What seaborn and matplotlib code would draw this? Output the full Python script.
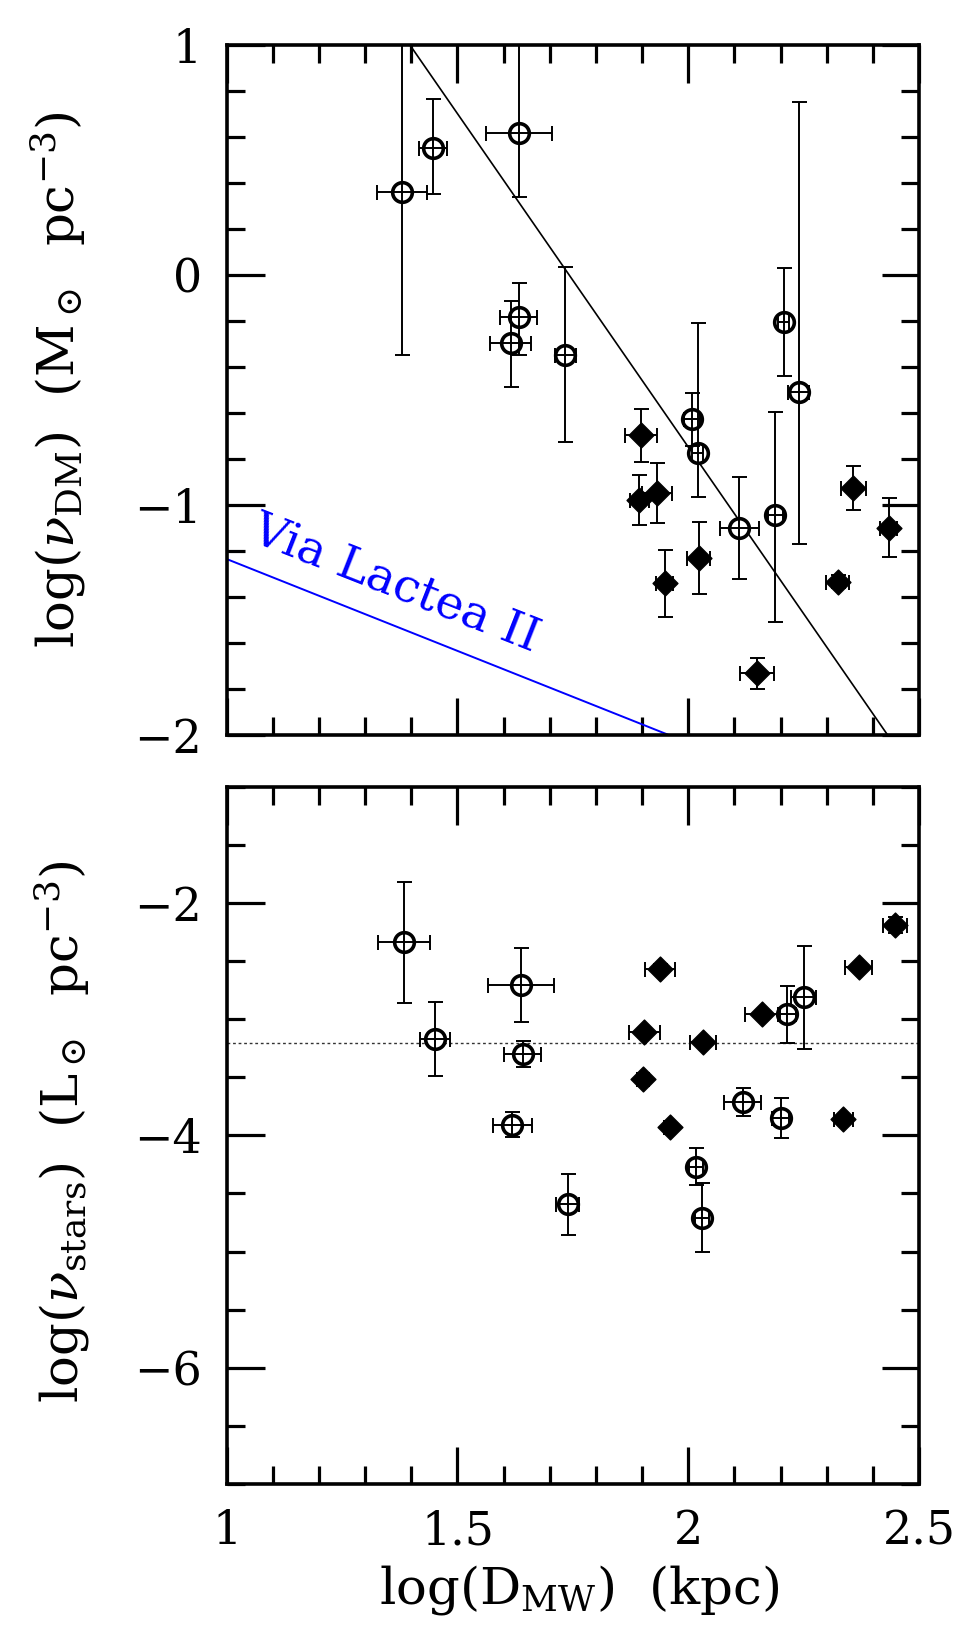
import numpy as np
import pandas as pd
import matplotlib
matplotlib.use("Agg")
import matplotlib.pyplot as plt
from matplotlib.ticker import MultipleLocator
import seaborn as sns

# top panel: dark matter density, open symbols
dm_open_x = [1.380, 1.447, 1.633, 1.633, 1.615, 1.734, 2.207, 2.239, 2.008, 2.021, 2.111, 2.189]
dm_open_y = [0.360, 0.551, 0.619, -0.184, -0.297, -0.348, -0.203, -0.507, -0.627, -0.773, -1.101, -1.043]
dm_open_xerr = [0.055, 0.030, 0.072, 0.040, 0.045, 0.022, 0.012, 0.022, 0.018, 0.012, 0.043, 0.016]
dm_open_ylo = [0.708, 0.200, 0.280, 0.164, 0.189, 0.377, 0.236, 0.664, 0.115, 0.194, 0.222, 0.464]
dm_open_yhi = [0.708, 0.213, 0.500, 0.151, 0.184, 0.384, 0.233, 1.259, 0.115, 0.566, 0.224, 0.449]

# top panel: filled symbols
dm_fill_x = [1.898, 1.894, 1.932, 1.949, 2.023, 2.149, 2.324, 2.358, 2.434]
dm_fill_y = [-0.696, -0.978, -0.949, -1.341, -1.232, -1.732, -1.333, -0.927, -1.099]
dm_fill_xerr = [0.035, 0.020, 0.032, 0.018, 0.025, 0.036, 0.025, 0.027, 0.018]
dm_fill_yerr = [0.115, 0.110, 0.130, 0.145, 0.157, 0.066, 0.030, 0.095, 0.128]

# fit line and Via Lactea II line
fit_x = [1.397, 2.432]
fit_y = [1.0, -2.0]
vl_x = [1.0, 1.958]
vl_y = [-1.235, -2.0]

# bottom panel: stellar density
st_open_x = [1.384, 1.451, 1.638, 1.641, 1.619, 1.739, 2.250, 2.214, 2.118, 2.200, 2.017, 2.030]
st_open_y = [-2.337, -3.171, -2.708, -3.299, -3.908, -4.593, -2.813, -2.956, -3.713, -3.850, -4.270, -4.707]
st_open_xerr = [0.056, 0.032, 0.072, 0.040, 0.043, 0.025, 0.027, 0.020, 0.040, 0.018, 0.015, 0.015]
st_open_yerr = [0.52, 0.32, 0.32, 0.11, 0.11, 0.26, 0.44, 0.245, 0.12, 0.17, 0.16, 0.30]

st_fill_x = [2.449, 2.369, 1.939, 2.160, 1.905, 2.032, 1.902, 1.960, 2.336]
st_fill_y = [-2.191, -2.548, -2.565, -2.956, -3.113, -3.199, -3.513, -3.927, -3.862]
st_fill_xerr = [0.026, 0.030, 0.032, 0.038, 0.034, 0.028, 0.012, 0.012, 0.020]
st_fill_yerr = [0.07, 0.03, 0.04, 0.03, 0.04, 0.03, 0.03, 0.03, 0.03]

st_mean = -3.208

sns.set_style("ticks", {'axes.edgecolor': 'black', 'xtick.color': 'black',
                        'ytick.color': 'black', 'text.color': 'black',
                        'axes.labelcolor': 'black'})
plt.rcParams['font.family'] = ['DejaVu Serif']
plt.rcParams['mathtext.fontset'] = 'dejavuserif'

fig = plt.figure(figsize=(9.73, 16.48), dpi=100)
ax1 = fig.add_axes([0.233, 0.554, 0.7115, 0.4187])
ax2 = fig.add_axes([0.233, 0.0995, 0.7115, 0.4231])

eb = dict(fmt='none', ecolor='black', elinewidth=1.4, capsize=5.4, capthick=1.4, zorder=4)


def draw_points(ax, ox, oy, oxe, oye, fx, fy, fxe, fye):
    op = pd.DataFrame({'x': ox, 'y': oy})
    fp = pd.DataFrame({'x': fx, 'y': fy})
    sns.scatterplot(data=op, x='x', y='y', ax=ax, marker='o', s=200, color='white',
                    edgecolor='black', linewidth=2.6, zorder=3)
    sns.scatterplot(data=fp, x='x', y='y', ax=ax, marker='D', s=160, color='black',
                    edgecolor='black', linewidth=1, zorder=3)
    ax.errorbar(ox, oy, xerr=oxe, yerr=oye, **eb)
    ax.errorbar(fx, fy, xerr=fxe, yerr=fye, **eb)


draw_points(ax1, dm_open_x, dm_open_y, dm_open_xerr, [dm_open_ylo, dm_open_yhi],
            dm_fill_x, dm_fill_y, dm_fill_xerr, dm_fill_yerr)
draw_points(ax2, st_open_x, st_open_y, st_open_xerr, st_open_yerr,
            st_fill_x, st_fill_y, st_fill_xerr, st_fill_yerr)

sns.lineplot(x=fit_x, y=fit_y, ax=ax1, color='black', linewidth=1.2, zorder=2)
sns.lineplot(x=vl_x, y=vl_y, ax=ax1, color='blue', linewidth=1.4, zorder=2)
ax1.text(1.365, -1.345, 'Via Lactea II', color='blue', rotation=-21.5,
         rotation_mode='anchor', ha='center', va='center', fontsize=34)

ax2.axhline(st_mean, ls=(0, (2, 2)), lw=1.0, color='0.2', zorder=1)

for ax in (ax1, ax2):
    ax.set_xlim(1, 2.5)
    ax.xaxis.set_major_locator(MultipleLocator(0.5))
    ax.xaxis.set_minor_locator(MultipleLocator(0.1))
    ax.tick_params(which='both', direction='in', top=True, right=True, width=2.3,
                   labelsize=33, pad=18, colors='black')
    ax.tick_params(which='major', length=27)
    ax.tick_params(which='minor', length=13)
    for s in ax.spines.values():
        s.set_linewidth(2.6)
        s.set_color('black')
    ax.set_xlabel('')
    ax.set_ylabel('')

ax1.set_ylim(-2, 1)
ax1.yaxis.set_major_locator(MultipleLocator(1))
ax1.yaxis.set_minor_locator(MultipleLocator(0.2))
ax1.tick_params(labelbottom=False)
ax1.set_yticks([-2, -1, 0, 1])
ax1.set_yticklabels(['\u22122', '\u22121', '0', '1'])

ax2.set_ylim(-7, -1)
ax2.yaxis.set_major_locator(MultipleLocator(2))
ax2.yaxis.set_minor_locator(MultipleLocator(0.5))
ax2.set_xticks([1, 1.5, 2, 2.5])
ax2.set_xticklabels(['1', '1.5', '2', '2.5'])

ax1.set_ylabel(r'log($\nu_{\mathrm{DM}}$)  (M$_\odot$  pc$^{-3}$)', fontsize=37)
ax1.yaxis.set_label_coords(-0.20, 0.515)
ax2.set_ylabel(r'log($\nu_{\mathrm{stars}}$)  (L$_\odot$  pc$^{-3}$)', fontsize=37)
ax2.yaxis.set_label_coords(-0.195, 0.505)
ax2.set_xlabel(r'log(D$_{\mathrm{MW}}$)  (kpc)', fontsize=37)
ax2.xaxis.set_label_coords(0.51, -0.113)

fig.savefig('out.png', dpi=100, facecolor='white')
